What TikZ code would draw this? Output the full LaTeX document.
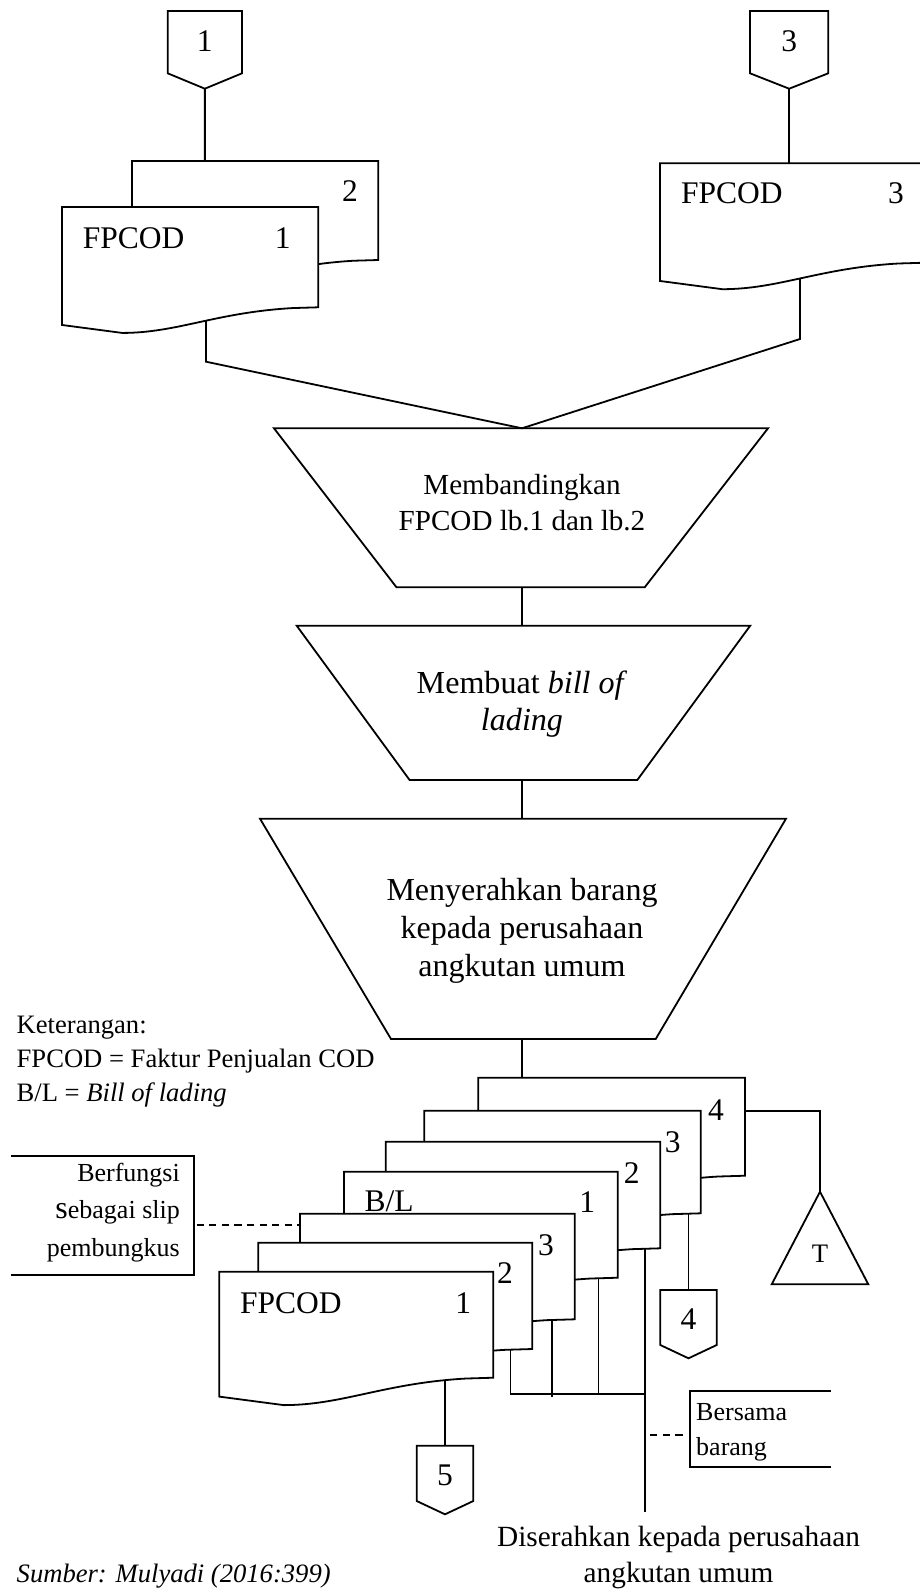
\documentclass[tikz,border=0pt]{standalone}
\usepackage{fontspec}
\setmainfont{Liberation Serif}

% type sizes (1pt = one unit of the drawing)
\newcommand\fsDoc{\fontsize{31.5}{38}\selectfont}
\newcommand\fsTa{\fontsize{29.1}{36.4}\selectfont}
\newcommand\fsTb{\fontsize{32.1}{37.4}\selectfont}
\newcommand\fsTc{\fontsize{32}{38.3}\selectfont}
\newcommand\fsNote{\fontsize{26.6}{34.3}\selectfont}
\newcommand\fsSide{\fontsize{26}{37.5}\selectfont}
\newcommand\fsBar{\fontsize{26}{35}\selectfont}
\newcommand\fsHand{\fontsize{29.3}{36}\selectfont}
\newcommand\fsTri{\fontsize{26.7}{30}\selectfont}

% document symbol with a wavy bottom: left, right, top, bottom of right side
\newcommand\mkdoc[4]{%
  \pgfmathsetmacro\dW{#2-#1}%
  \draw[docbox] (#1,#3) -- (#2,#3) -- (#2,#4)
    -- ({#2-0.1*\dW},{#4+0.003*\dW})
    .. controls ({#1+0.6*\dW},{#4+0.02*\dW}) and ({#1+0.45*\dW},{#4+0.1*\dW})
    .. ({#1+0.235*\dW},{#4+0.1*\dW})
    -- (#1,{#4+0.069*\dW}) -- cycle;}

% off-page connector: name, left, right, top, side bottom, tip
\newcommand\mkoff[6]{%
  \coordinate (#1-top) at ({(#2+#3)/2},#4);
  \coordinate (#1-tip) at ({(#2+#3)/2},#6);
  \draw[ln] (#2,#4) -- (#3,#4) -- (#3,#5) -- (#1-tip) -- (#2,#5) -- cycle;}

\begin{document}
\begin{tikzpicture}[x=1pt,y=-1pt,
  ln/.style={line width=1.8pt, line join=miter},
  docbox/.style={ln, fill=white},
  dsh/.style={line width=1.8pt, dash pattern=on 7.3pt off 5.3pt},
  num/.style={inner sep=0pt, font=\fsDoc},
  txt/.style={inner sep=0pt}]

\path[use as bounding box] (0,0) rectangle (920,1592);
\fill[white] (0,0) rectangle (920,1592);
\clip (0,0) rectangle (920,1592);

% ---------- upper part: FPCOD sheets ----------
\mkoff{op1}{167.7}{242}{11}{73.3}{88.7}
\mkoff{op3}{750}{828.3}{11}{73.3}{88.7}

\coordinate (d2-in) at (204.85,161);
\coordinate (d3-in) at (789.15,163.3);
\coordinate (d1-out) at (206,316);
\coordinate (d1-k) at (206,361.7);
\coordinate (d3-out) at (800,270);
\coordinate (d3-k) at (800,339);
\coordinate (t1-apex) at (522,428.3);

\draw[ln] (op1-tip) -- (d2-in);
\draw[ln] (op3-tip) -- (d3-in);
\draw[ln] (d1-out) -- (d1-k) -- (t1-apex);
\draw[ln] (d3-out) -- (d3-k) -- (t1-apex);

\mkdoc{132}{378.3}{161}{260}
\mkdoc{62}{318.3}{207}{307.3}
\mkdoc{660}{925}{163.3}{262.7}

\node[num, anchor=base] (op1-t) at (204.85,51.7) {1};
\node[num, anchor=base] (op3-t) at (789.15,51.7) {3};
\node[num, anchor=base west] (d1-t) at (82.7,248.3) {FPCOD};
\node[num, anchor=base] (d1-n) at (282.7,248.3) {1};
\node[num, anchor=base] (d2-n) at (350,201.7) {2};
\node[num, anchor=base west] (d3-t) at (681,203.3) {FPCOD};
\node[num, anchor=base] (d3-n) at (896,203.3) {3};

% ---------- manual operations ----------
\coordinate (t1-tl) at (274,428.3);
\coordinate (t1-tr) at (768,428.3);
\coordinate (t1-br) at (644.7,587.3);
\coordinate (t1-bl) at (396.5,587.3);
\coordinate (t1-bot) at (522,587.3);
\draw[ln] (t1-tl) -- (t1-tr) -- (t1-br) -- (t1-bl) -- cycle;

\coordinate (t2-tl) at (296.7,625.7);
\coordinate (t2-tr) at (750.2,625.7);
\coordinate (t2-br) at (637.3,780);
\coordinate (t2-bl) at (409.6,780);
\coordinate (t2-top) at (522,625.7);
\coordinate (t2-bot) at (522,780);
\draw[ln] (t2-tl) -- (t2-tr) -- (t2-br) -- (t2-bl) -- cycle;

\coordinate (t3-tl) at (260,818.7);
\coordinate (t3-tr) at (786,818.7);
\coordinate (t3-br) at (655.7,1039);
\coordinate (t3-bl) at (391,1039);
\coordinate (t3-top) at (522,818.7);
\coordinate (t3-bot) at (522,1039);
\draw[ln] (t3-tl) -- (t3-tr) -- (t3-br) -- (t3-bl) -- cycle;

\draw[ln] (t1-bot) -- (t2-top);
\draw[ln] (t2-bot) -- (t3-top);

% multi-line labels sit on the baseline of their last line
\node[txt, font=\fsTa, align=center, anchor=base] (t1-t) at (522,530.7)
  {Membandingkan\\FPCOD lb.1 dan lb.2};
\node[txt, font=\fsTb, align=center, anchor=base] (t2-t) at (522,730.7)
  {Membuat \textit{bill of}\\\textit{lading}};
\node[txt, font=\fsTc, align=center, anchor=base] (t3-t) at (522,976.7)
  {Menyerahkan barang\\kepada perusahaan\\angkutan umum};

% ---------- legend ----------
\node[txt, font=\fsNote, align=left, anchor=base west] (note) at (16.5,1101.7)
  {Keterangan:\\FPCOD = Faktur Penjualan COD\\B/L = \textit{Bill of lading}};

% ---------- lower part: B/L and FPCOD set ----------
\coordinate (a-in) at (522,1077.7);
\coordinate (a-r) at (745,1110.7);
\coordinate (a-k) at (820,1110.7);
\coordinate (tri-apex) at (820,1191.7);
\coordinate (tri-br) at (868.3,1284.3);
\coordinate (tri-bl) at (771.7,1284.3);
\coordinate (b-out) at (688.5,1205);
\coordinate (c-out) at (645,1240);
\coordinate (c-bus) at (645,1394.3);
\coordinate (c-end) at (645,1511.7);
\coordinate (d-out) at (598.5,1270);
\coordinate (d-bus) at (598.5,1394.3);
\coordinate (e-out) at (552,1312);
\coordinate (e-end) at (552,1396.7);
\coordinate (f-out) at (510.5,1342);
\coordinate (f-bus) at (510.5,1394.3);
\coordinate (g-out) at (445,1372);

\mkoff{op4}{660.3}{716.7}{1290}{1345}{1358.3}
\mkoff{op5}{416.7}{473.3}{1445.7}{1501}{1514.3}

\draw[ln] (t3-bot) -- (a-in);
\draw[ln] (a-r) -- (a-k) -- (tri-apex);
\draw[ln] (tri-apex) -- (tri-br) -- (tri-bl) -- cycle;
\draw[ln] (b-out) -- (op4-top);
\draw[ln] (c-out) -- (c-end);
\draw[ln] (d-out) -- (d-bus);
\draw[ln] (e-out) -- (e-end);
\draw[ln] (f-out) -- (f-bus) -- (c-bus);
\draw[ln] (g-out) -- (op5-top);

\mkdoc{478.3}{745}{1077.7}{1175.7}
\mkdoc{424.3}{700.7}{1110.7}{1213.3}
\mkdoc{385.7}{660.3}{1141.7}{1248.3}
\mkdoc{344}{617.7}{1171.7}{1277.7}
\mkdoc{300}{574.7}{1213.7}{1319.3}
\mkdoc{258.3}{532.3}{1242.7}{1349}
\mkdoc{219.3}{493.3}{1271.7}{1377.7}

\node[num, anchor=base] (a-n) at (716,1120) {4};
\node[num, anchor=base] (b-n) at (672.7,1152.3) {3};
\node[num, anchor=base] (c-n) at (631.7,1183.3) {2};
\node[num, anchor=base] (d-n) at (587.3,1212.3) {1};
\node[num, anchor=base west] (d-t) at (364.3,1211.7) {B/L};
\node[num, anchor=base] (e-n) at (546,1255) {3};
\node[num, anchor=base] (f-n) at (505,1283.3) {2};
\node[num, anchor=base] (g-n) at (463.3,1313.3) {1};
\node[num, anchor=base west] (g-t) at (240,1313.3) {FPCOD};

\node[num, anchor=base] (op4-t) at (688.5,1329) {4};
\node[num, anchor=base] (op5-t) at (445,1485) {5};
\node[txt, font=\fsTri, anchor=base] (tri-t) at (820,1262.7) {T};

% ---------- annotations ----------
\coordinate (sb-r) at (196.5,1225);
\coordinate (e-l) at (300,1225);
\draw[ln] (10.7,1155.7) -- (194.3,1155.7) -- (194.3,1275) -- (10.7,1275);
\draw[dsh] (sb-r) -- (e-l);
\node[txt, font=\fsSide, align=right, anchor=base east] (sb-t) at (180,1256)
  {Berfungsi\\{\fontsize{32}{37.5}\selectfont s}ebagai slip\\pembungkus};

\coordinate (c-dash) at (650,1435);
\coordinate (bb-l) at (687,1435);
\draw[ln] (831,1391) -- (690,1391) -- (690,1466.7) -- (831,1466.7);
\draw[dsh] (c-dash) -- (bb-l);
\node[txt, font=\fsBar, align=left, anchor=base west] (bb-t) at (696,1455)
  {Bersama\\barang};

\node[txt, font=\fsHand, align=center, anchor=base] (hand) at (678.5,1582)
  {Diserahkan kepada perusahaan\\angkutan umum};

\node[txt, font=\fsNote\itshape, anchor=base west] (src) at (16.5,1582)
  {Sumber: Mulyadi (2016:399)};

\end{tikzpicture}
\end{document}
